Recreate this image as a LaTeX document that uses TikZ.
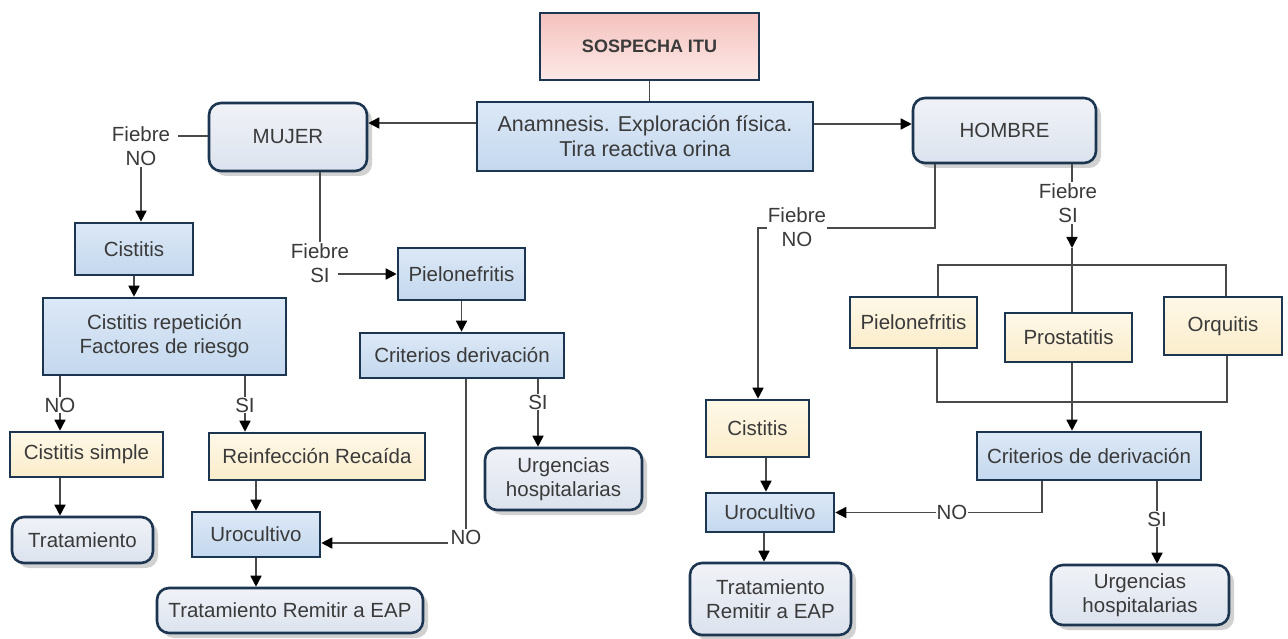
\documentclass[tikz,border=0pt]{standalone}
\usepackage{fontspec}
\setmainfont{Liberation Sans}
\usetikzlibrary{arrows.meta,shadows}
\definecolor{bordc}{HTML}{1C3550}
\definecolor{txtc}{HTML}{3A3A3A}
\definecolor{linec}{HTML}{4A4A4A}
\definecolor{blueT}{HTML}{DCE8F6}
\definecolor{blueB}{HTML}{C4D8EE}
\definecolor{yelT}{HTML}{FEF8E8}
\definecolor{yelB}{HTML}{FBEDCB}
\definecolor{grayT}{HTML}{F0F2F7}
\definecolor{grayB}{HTML}{DCE3EE}
\definecolor{pinkT}{HTML}{F4C2BE}
\definecolor{pinkB}{HTML}{FDE9E7}
\begin{document}
\begin{tikzpicture}[x=1pt,y=-1pt,
  base/.style={draw=bordc, line width=2.6pt, text=txtc, align=center, inner sep=0pt,
    font=\fontsize{20.5}{24}\selectfont},
  bluebox/.style={base, top color=blueT, bottom color=blueB},
  yelbox/.style={base, top color=yelT, bottom color=yelB},
  pinkbox/.style={base, top color=pinkT, bottom color=pinkB},
  roundbox/.style={base, rounded corners=12pt, top color=grayT, bottom color=grayB,
    drop shadow={shadow xshift=5pt, shadow yshift=-5pt, fill=black!40, opacity=0.45}},
  lbl/.style={text=txtc, align=center, inner sep=1pt, font=\fontsize{20.5}{24}\selectfont},
  con/.style={draw=linec, line width=1.6pt},
  arr/.style={con, -{Triangle[length=11pt,width=11pt,color=black]}}]
\fill[white] (0,0) rectangle (1288,639);
\useasboundingbox (0,0) rectangle (1288,639);

% ---- nodes ----
\node[pinkbox, minimum width=219pt, minimum height=67pt] (sos) at (649.5,46.5) {\fontsize{18}{22}\selectfont\bfseries SOSPECHA ITU};
\node[bluebox, minimum width=336pt, minimum height=69pt, font=\fontsize{21.5}{25}\selectfont] (ana) at (645,136.5) {Anamnesis. Exploración física.\\Tira reactiva orina};
\node[roundbox, minimum width=158pt, minimum height=68pt] (muj) at (288,137) {MUJER};
\node[roundbox, minimum width=183pt, minimum height=65pt] (hom) at (1004.5,130.5) {HOMBRE};

\node[bluebox, minimum width=118pt, minimum height=52pt] (cis1) at (134,249) {Cistitis};
\node[bluebox, minimum width=243pt, minimum height=77pt] (rep) at (164.5,336.5) {Cistitis repetición\\Factores de riesgo};
\node[bluebox, minimum width=127pt, minimum height=52pt] (pie1) at (461.5,274) {Pielonefritis};
\node[bluebox, minimum width=204pt, minimum height=45pt] (crit1) at (462,355.5) {Criterios derivación};
\node[roundbox, minimum width=157pt, minimum height=62pt] (urg1) at (563.5,479) {Urgencias\\hospitalarias};
\node[yelbox, minimum width=153pt, minimum height=45pt] (cs) at (86.5,454.5) {Cistitis simple};
\node[roundbox, minimum width=141pt, minimum height=46pt] (trat1) at (82.5,540) {Tratamiento};
\node[yelbox, minimum width=216pt, minimum height=47pt] (rein) at (317,456.5) {Reinfección Recaída};
\node[bluebox, minimum width=128pt, minimum height=45pt] (uro1) at (256,534.5) {Urocultivo};
\node[roundbox, minimum width=266pt, minimum height=45pt] (trem1) at (290,610.5) {Tratamiento Remitir a EAP};

\node[yelbox, minimum width=127pt, minimum height=51pt] (pie2) at (913.5,322.5) {Pielonefritis};
\node[yelbox, minimum width=127pt, minimum height=49pt] (pros) at (1068.5,337.5) {Prostatitis};
\node[yelbox, minimum width=118pt, minimum height=58pt] (orq) at (1223,326) {Orquitis};
\node[bluebox, minimum width=224pt, minimum height=48pt] (crit2) at (1089,456) {Criterios de derivación};
\node[roundbox, minimum width=178pt, minimum height=60pt] (urg2) at (1140,595) {Urgencias\\hospitalarias};
\node[yelbox, minimum width=103pt, minimum height=57pt] (cis2) at (757.5,428.5) {Cistitis};
\node[bluebox, minimum width=128pt, minimum height=39pt] (uro2) at (770,512.5) {Urocultivo};
\node[roundbox, minimum width=161pt, minimum height=72pt] (trem2) at (770.5,599) {Tratamiento\\Remitir a EAP};

% ---- labels ----
\node[lbl] (lA) at (141,146) {Fiebre\\NO};
\node[lbl] (lB) at (320,263) {Fiebre\\SI};
\node[lbl] (lC) at (538,402) {SI};
\node[lbl] (lD) at (466,537) {NO};
\node[lbl] (lE) at (60,405) {NO};
\node[lbl] (lF) at (245,405) {SI};
\node[lbl] (lH) at (1068,203) {Fiebre\\SI};
\node[lbl] (lJ) at (1157,519) {SI};

% ---- coordinates ----
\coordinate (fA) at (178,136);
\coordinate (sB) at (338,274);
\coordinate (nD) at (448,543);
\coordinate (cE) at (758,228);
\coordinate (cF) at (1072,248);
\coordinate (bL) at (938,265);
\coordinate (bR) at (1226,265);
\coordinate (dL) at (937,402);
\coordinate (dR) at (1227,402);

% ---- connectors ----
\draw[con] (sos.south) -- (sos.south |- ana.north);
\draw[arr] ([yshift=13.5pt]ana.west) -- ([yshift=13.5pt]ana.west -| muj.east);
\draw[arr] ([yshift=12.5pt]ana.east) -- ([yshift=12.5pt]ana.east -| hom.west);

\draw[con] (muj.west |- fA) -- (fA);
\draw[arr] (lA.south) -- (lA.south |- cis1.north);
\draw[arr] (cis1.south) -- (cis1.south |- rep.north);
\draw[con] ([xshift=32pt]muj.south) -- ([xshift=32pt]muj.south |- lB.north);
\draw[arr] (sB) -- (pie1.west |- sB);
\draw[arr] (pie1.south) -- (pie1.south |- crit1.north);
\draw[con] (crit1.south -| lC) -- (lC.north);
\draw[arr] (lC.south) -- (lC.south |- urg1.north);
\draw[con] (crit1.south -| lD) -- (lD.north);
\draw[arr] (nD) -- (nD -| uro1.east);
\draw[con] (rep.south -| lE) -- (lE.north);
\draw[arr] (lE.south) -- (lE.south |- cs.north);
\draw[con] (rep.south -| lF) -- (lF.north);
\draw[arr] (lF.south) -- (lF.south |- rein.north);
\draw[arr] (cs.south -| lE) -- (lE |- trat1.north);
\draw[arr] (rein.south -| uro1.north) -- (uro1.north);
\draw[arr] (uro1.south) -- (uro1.south |- trem1.north);

\draw[arr] ([xshift=-69.5pt]hom.south) |- (cE) -- (cE |- cis2.north);
\draw[con] (hom.south -| cF) -- (cF |- lH.north);
\draw[arr] (cF |- lH.south) -- (cF);
\draw[con] (cF) -- (cF |- pros.north);
\draw[con] (bL |- pie2.north) -- (bL) -- (bR) -- (bR |- orq.north);
\draw[con] (dL |- pie2.south) -- (dL) -- (dR) -- (dR |- orq.south);
\draw[arr] (cF |- pros.south) -- (cF |- crit2.north);
\draw[arr] ([xshift=-47pt]crit2.south) |- (uro2.east);
\draw[con] (crit2.south -| lJ) -- (lJ.north);
\draw[arr] (lJ.south) -- (lJ.south |- urg2.north);
\draw[arr] ([xshift=8.5pt]cis2.south) -- ([xshift=8.5pt]cis2.south |- uro2.north);
\draw[arr] ([xshift=-6pt]uro2.south) -- ([xshift=-6pt]uro2.south |- trem2.north);

% ---- labels sitting on lines ----
\node[lbl, fill=white] (lG) at (797,227) {Fiebre\\NO};
\node[lbl, fill=white] (lI) at (952,512.5) {NO};
\end{tikzpicture}
\end{document}
